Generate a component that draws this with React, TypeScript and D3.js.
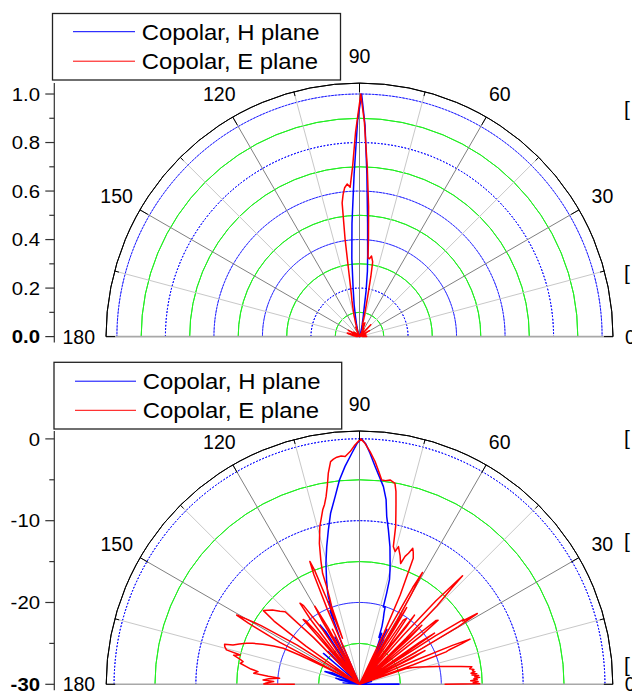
import React from 'react';
import * as d3 from 'd3';

// ---------- data ----------
const seriesNames = ['Copolar, H plane', 'Copolar, E plane'];
const seriesColors = ['#0000ff', '#ff0000'];
const angleLabels = [0, 30, 60, 90, 120, 150, 180];
const angleMinor = [15, 45, 75, 105, 135, 165];
const linMajor = [0, 0.2, 0.4, 0.6, 0.8, 1.0];
const linMinor = [0.1, 0.3, 0.5, 0.7, 0.9];
const dbMajor = [-30, -20, -10, 0];
const dbMinor = [-25, -15, -5];

// H plane copolar, [angle deg, dB]
const hPlane: [number, number][] = [
  [0, -25.1], [0.6, -25.3], [1.2, -35],
  [12, -35], [13.5, -28.5], [14.5, -35],
  [20, -35], [21.5, -27.5], [22.5, -35],
  [27, -35], [28.5, -26.5], [29.5, -35],
  [35, -35], [36.5, -27], [37.5, -35],
  [43, -35], [45, -26.8], [46, -35],
  [50, -35], [52, -25.5], [53, -35],
  [55, -35], [56.5, -25], [57.5, -28], [58.5, -24.8], [59.5, -35],
  [60.5, -26], [61.5, -23.8], [62.5, -26], [63.5, -22.5], [64.5, -25], [65.3, -24.4], [66.5, -23.2],
  [67.5, -23.8], [68.8, -22.4], [70, -21.5], [71.0, -20.8], [71.7, -20.0], [72.9, -20.1], [73.4, -18.4],
  [74.0, -16.7], [75.0, -15.6], [75.85, -14.7], [77.5, -12.8], [79.4, -10.8], [80.8, -9.2], [81.8, -7.2],
  [83.1, -5.66], [84.3, -4.7], [85.9, -3.3], [87.4, -1.73], [88.5, -0.6], [89.5, 0],
  [90.5, -0.5], [91.9, -1.74], [93.8, -3.3], [95.6, -4.9], [97.4, -6.86], [99.6, -8.8], [101.4, -10.75],
  [103.4, -12.7], [105.5, -14.65], [107.5, -16.6], [109.0, -18.0], [109.6, -18.6], [110.2, -20.5],
  [110.7, -19.2], [111.2, -21.5], [111.8, -20.3], [112.5, -23], [113.5, -24.5], [114.5, -35],
  [116, -35], [117.5, -23.5], [118.5, -35],
  [121, -35], [122.5, -22.5], [123.6, -21.3], [124.5, -35],
  [127, -35], [128.5, -25], [129.5, -35],
  [132, -35], [133.5, -24.5], [134.5, -35],
  [137.5, -35], [139.4, -24.2], [140.5, -35],
  [146, -35], [148, -26.5], [149, -35],
  [155, -35], [157, -26.5], [159.8, -25.5], [161, -35],
  [164, -35], [165.5, -27], [167.5, -27.6], [169, -35],
  [173, -35], [175, -28], [176, -35],
  [180, -35],
];

// E plane copolar, [angle deg, dB]
const ePlane: [number, number][] = [
  [0, -19.6], [0.3, -15.3], [0.8, -16.1], [1.3, -15.5], [1.8, -16.4], [2.3, -15.6], [2.8, -16.0],
  [3.3, -15.3], [3.7, -15.9], [4.2, -15.4], [4.7, -16.2], [5.2, -15.6], [5.7, -16.3], [6.2, -15.8],
  [6.8, -16.1], [7.4, -15.9], [8.0, -16.4], [8.9, -16.1], [10, -17.4], [11.5, -19.1], [13, -20.3],
  [14.5, -21.4], [16, -22.3], [17.5, -23.2], [18.7, -24.0], [19.4, -35],
  [20.0, -23], [20.5, -18.7], [21.0, -18.3], [21.6, -16.6], [22.2, -15.4], [22.7, -17.6], [23.5, -24], [24, -35],
  [25.5, -35], [26.5, -23], [27.2, -21], [27.8, -35],
  [29, -35], [29.6, -22], [30.3, -16], [30.6, -15.0], [31.0, -13.2], [31.5, -15.2], [32.0, -15.0], [32.6, -19], [33.2, -35],
  [33.8, -24], [34.3, -18.9], [35.0, -21], [35.5, -35],
  [37.5, -35], [38.3, -20.5], [39.2, -17.6], [39.8, -17.8], [40.5, -21], [41.2, -35],
  [42, -35], [42.7, -22], [43.5, -19.5], [44, -35],
  [44.6, -22], [45.4, -16.5], [46.2, -13.7], [46.5, -11.7], [46.9, -13.8], [47.5, -16.2], [48.3, -22], [49, -35],
  [50, -35], [50.8, -21], [51.5, -19.2], [52.2, -35],
  [53, -24], [54.4, -20.1], [55.7, -20.5], [56.4, -35],
  [57.2, -35], [57.8, -22], [58.4, -19], [58.9, -35],
  [59.4, -21], [60.0, -17.6], [60.6, -14.3], [61.2, -16.5], [62, -23], [62.6, -35],
  [63.5, -35], [64.5, -23], [65.5, -18], [66.9, -13.25], [67.8, -12.6], [68.6, -12.15], [69.5, -12.9],
  [70.4, -13.4], [71.2, -14.4], [72.5, -13.5], [73.4, -13.0], [74.2, -12.5], [75, -13.2], [76.2, -12.67],
  [77.1, -10.2], [78.0, -8.6], [78.6, -7.43], [79.3, -6.0], [80.0, -5.05], [81.5, -4.74], [82.7, -4.9],
  [83.8, -4.87], [84.8, -3.9], [86.0, -2.7], [87.4, -1.53], [88.7, -0.53], [89.7, 0],
  [91.1, -0.74], [92.3, -1.53], [93.6, -2.1], [94.6, -2.0], [95.7, -2.1], [96.6, -2.3], [97.4, -2.55],
  [98.4, -3.9], [99.2, -5.4], [100.1, -6.7], [101.0, -7.6], [101.9, -8.2], [103, -9.2], [104.1, -10.1],
  [105.9, -12.1], [107.3, -14.1], [108.4, -15.7], [108.6, -17.4], [109.0, -18.7], [109.7, -19.9], [110.3, -24],
  [110.8, -20], [111.5, -15], [112, -13.8], [112.6, -15.5], [113.2, -20], [114, -35],
  [115.5, -35], [116.2, -22.5], [116.8, -35],
  [118.3, -35], [119.0, -22], [119.8, -19.0], [120.5, -21], [121.2, -35],
  [123, -35], [124, -22], [125.4, -18.2], [126.3, -17.7], [127, -20], [127.6, -35],
  [128.5, -35], [129.3, -22], [130.2, -19.8], [131, -19.5], [131.8, -35],
  [133, -35], [134.5, -22], [135.7, -17.3], [137.5, -16.8], [139.5, -16.0], [141, -15.6], [142.5, -15.2],
  [143.5, -17], [144.5, -22], [145, -35],
  [146.5, -35], [147.8, -21], [149.2, -16], [150.0, -14], [150.6, -12.76], [151.2, -14.5], [152.2, -19], [153.2, -35],
  [153.6, -25], [154, -21.9], [154.7, -19.7], [156, -18.5], [157.5, -17.2], [159, -16], [160, -15.3],
  [161.5, -14.5], [162.7, -13.8], [163.5, -12.8], [164.4, -12.9], [165.5, -13.2], [166.2, -15.0],
  [167, -14.2], [168, -15.0], [169, -15.5], [170, -15.2], [171.1, -16.0], [172, -16.6], [172.9, -17.5],
  [174, -17.0], [175, -18.8], [175.7, -20.2], [176.5, -18.9], [177.4, -18.2], [178.2, -19.5],
  [179.2, -18.6], [179.8, -18.3], [180, -22.1],
];

// ---------- layout ----------
const W = 632;
const H = 695;
const FONT = '"Liberation Sans", Arial, Helvetica, sans-serif';

type Pt = [number, number];

interface PolarProps {
  cx: number;
  cy: number;
  R: number;
  rScale: d3.ScaleLinear<number, number>;
  major: number[];
  minor: number[];
  fmt: (v: number) => string;
  series: Pt[][];
  legend: { x: number; y: number; w: number; h: number; lx1: number; lx2: number; tx: number; rows: number[] };
}

const deg = d3.scaleLinear().domain([0, 180]).range([0, Math.PI]);

function Polar({ cx, cy, R, rScale, major, minor, fmt, series, legend }: PolarProps) {
  const polarXY = (a: number, r: number): Pt => [cx + r * Math.cos(deg(a)), cy - r * Math.sin(deg(a))];
  const arc = (r: number) =>
    d3.arc()({ innerRadius: r, outerRadius: r, startAngle: -Math.PI / 2, endAngle: Math.PI / 2 }) as string;
  const line = d3
    .lineRadial<Pt>()
    .angle((d) => Math.PI / 2 - deg(d[0]))
    .radius((d) => rScale(d[1]));
  const axisX = 54.3;
  const bottomVal = rScale.domain()[0];
  return (
    <g>
      {/* grid circles */}
      <g transform={`translate(${cx},${cy})`}>
        {minor.map((v) => (
          <path key={'g' + v} d={arc(rScale(v))} fill="none" stroke="#22ee22" strokeWidth={1} />
        ))}
        {major
          .filter((v) => v !== bottomVal)
          .map((v) => (
            <path key={'b' + v} d={arc(rScale(v))} fill="none" stroke="#0000ff" strokeWidth={1} strokeDasharray="1.6,1.8" />
          ))}
      </g>
      {/* spokes */}
      {angleMinor.map((a) => {
        const [x, y] = polarXY(a, R);
        return <line key={'sm' + a} x1={cx} y1={cy} x2={x} y2={y} stroke="#c8c8c8" strokeWidth={1} />;
      })}
      {angleLabels
        .filter((a) => a !== 0 && a !== 180)
        .map((a) => {
          const [x, y] = polarXY(a, R);
          return <line key={'sM' + a} x1={cx} y1={cy} x2={x} y2={y} stroke="#808080" strokeWidth={1} />;
        })}
      {/* baseline */}
      <line x1={cx - R} y1={cy} x2={cx + R} y2={cy} stroke="#a8a8a8" strokeWidth={1.6} />
      {/* series */}
      <g transform={`translate(${cx},${cy})`}>
        {series.map((s, i) => (
          <path key={'s' + i} d={line(s) as string} fill="none" stroke={seriesColors[i]} strokeWidth={1.5} strokeLinejoin="round" />
        ))}
      </g>
      {/* outer arc and angular ticks */}
      <g transform={`translate(${cx},${cy})`}>
        <path d={arc(R)} fill="none" stroke="#000" strokeWidth={1} />
      </g>
      {[...angleLabels, ...angleMinor].map((a) => {
        const len = angleLabels.includes(a) ? 9 : 4.5;
        const [x1, y1] = polarXY(a, R);
        const [x2, y2] = polarXY(a, R - len);
        return <line key={'t' + a} x1={x1} y1={y1} x2={x2} y2={y2} stroke="#000" strokeWidth={1} />;
      })}
      {/* angle labels */}
      {angleLabels.map((a) => {
        if (a === 0)
          return (
            <text key={'al' + a} x={cx + R + 12} y={cy} dy="0.36em" fontSize={19.5} fontFamily={FONT} textAnchor="start">
              {a}
            </text>
          );
        if (a === 180)
          return (
            <text key={'al' + a} x={cx - R - 11} y={cy} dy="0.36em" fontSize={19.5} fontFamily={FONT} textAnchor="end">
              {a}
            </text>
          );
        const [x, y] = polarXY(a, R + 27);
        return (
          <text key={'al' + a} x={x} y={y} dy="0.36em" fontSize={19.5} fontFamily={FONT} textAnchor="middle">
            {a}
          </text>
        );
      })}
      {/* radial (y) axis */}
      <line x1={axisX} y1={cy + 6} x2={axisX} y2={cy - R} stroke="#333" strokeWidth={1.2} />
      {major.map((v) => {
        const y = cy - rScale(v);
        return (
          <g key={'ya' + v}>
            <line x1={axisX - 9} y1={y} x2={axisX} y2={y} stroke="#333" strokeWidth={1.2} />
            <g transform={`translate(40,${y}) scale(1.1,1)`}>
              <text
                x={0}
                y={0}
                dy="0.36em"
                fontSize={18.5}
                fontFamily={FONT}
                textAnchor="end"
                fontWeight={v === bottomVal ? 'bold' : 'normal'}
              >
                {fmt(v)}
              </text>
            </g>
          </g>
        );
      })}
      {minor.map((v) => {
        const y = cy - rScale(v);
        return <line key={'ym' + v} x1={axisX - 5} y1={y} x2={axisX} y2={y} stroke="#333" strokeWidth={1.2} />;
      })}
      {/* legend */}
      <rect x={legend.x} y={legend.y} width={legend.w} height={legend.h} fill="#fff" stroke="#222" strokeWidth={1.3} />
      {seriesNames.map((name, i) => (
        <g key={'lg' + i}>
          <line x1={legend.lx1} y1={legend.rows[i]} x2={legend.lx2} y2={legend.rows[i]} stroke={seriesColors[i]} strokeWidth={1} />
          <g transform={`translate(${legend.tx},${legend.rows[i] + 7.8}) scale(1.11,1)`}>
            <text x={0} y={0} fontSize={21.5} fontFamily={FONT}>
              {name}
            </text>
          </g>
        </g>
      ))}
    </g>
  );
}

export default function App() {
  const linScale = d3.scaleLinear().domain([0, 1.045]).range([0, 253.5]).clamp(true);
  const dbScale = d3.scaleLinear().domain([-30, 1]).range([0, 253.6]).clamp(true);
  const toLin = (s: Pt[]): Pt[] => s.map(([a, v]) => [a, Math.pow(10, v / 10)] as Pt);
  const bracketYs = [108, 272, 437, 540, 664];
  return (
    <svg width={W} height={H} style={{ position: 'absolute', left: 0, top: 0, background: '#fff' }}>
      <rect x={0} y={0} width={W} height={H} fill="#fff" />
      <Polar
        cx={359.5}
        cy={336.6}
        R={253.5}
        rScale={linScale}
        major={linMajor}
        minor={linMinor}
        fmt={(v) => v.toFixed(1)}
        series={[toLin(hPlane), toLin(ePlane)]}
        legend={{ x: 52.5, y: 13.5, w: 288, h: 66.5, lx1: 73, lx2: 135, tx: 141.7, rows: [31.7, 61.2] }}
      />
      <Polar
        cx={359.5}
        cy={684.3}
        R={253.3}
        rScale={dbScale}
        major={dbMajor}
        minor={dbMinor}
        fmt={(v) => String(v)}
        series={[hPlane, ePlane]}
        legend={{ x: 54, y: 362.3, w: 287.7, h: 66.7, lx1: 75, lx2: 136, tx: 142.7, rows: [381.2, 410.3] }}
      />
      {bracketYs.map((y) => (
        <text key={'br' + y} x={624} y={y} dy="0.36em" fontSize={21} fontFamily={FONT}>
          [
        </text>
      ))}
    </svg>
  );
}
